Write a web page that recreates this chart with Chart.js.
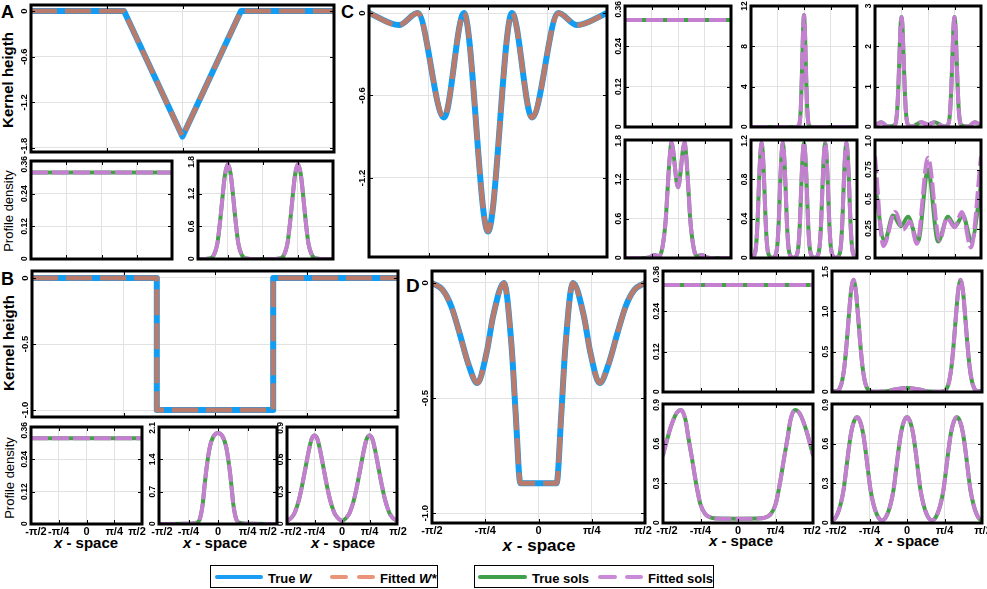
<!DOCTYPE html>
<html>
<head>
<meta charset="utf-8">
<title>Kernel and profile fits</title>
<script src="https://cdn.jsdelivr.net/npm/chart.js@4.4.1/dist/chart.umd.min.js"></script>
<style>
html,body{margin:0;padding:0;background:#fff;}
#fig{position:relative;width:987px;height:589px;overflow:hidden;background:#fff;font-family:"Liberation Sans",Arial,Helvetica,sans-serif;color:#000;}
#fig canvas{position:absolute;}
.txt{position:absolute;white-space:nowrap;line-height:1;}
.rot{transform:translate(-50%,-50%) rotate(-90deg);}
.ctr{transform:translateX(-50%);}
.b{font-weight:bold;}
.xl{font-weight:bold;font-size:15px;}
.leg{position:absolute;box-sizing:border-box;border:1.5px solid #000;background:#fff;}
.sw{position:absolute;height:4px;border-radius:2px;}
.lt{position:absolute;font-weight:bold;font-size:13px;line-height:15px;white-space:nowrap;}
</style>
</head>
<body>
<div id="fig">
  <div class="txt b" style="left:1px;top:3px;font-size:18px;">A</div>
  <div class="txt b" style="left:1px;top:270px;font-size:18px;">B</div>
  <div class="txt b" style="left:341px;top:3px;font-size:18px;">C</div>
  <div class="txt b" style="left:406px;top:276px;font-size:19px;">D</div>

  <div class="txt rot b" style="left:7px;top:80px;font-size:15px;">Kernel heigth</div>
  <div class="txt rot b" style="left:8px;top:343px;font-size:15px;">Kernel heigth</div>
  <div class="txt rot" style="left:8px;top:211px;font-size:13px;">Profile density</div>
  <div class="txt rot" style="left:9px;top:478px;font-size:13px;">Profile density</div>

  <div class="txt ctr xl" style="left:86px;top:535px;"><i>x</i> - space</div>
  <div class="txt ctr xl" style="left:215px;top:535px;"><i>x</i> - space</div>
  <div class="txt ctr xl" style="left:343px;top:535px;"><i>x</i> - space</div>
  <div class="txt ctr xl" style="left:539px;top:537px;font-size:17px;"><i>x</i> - space</div>
  <div class="txt ctr xl" style="left:741px;top:533px;"><i>x</i> - space</div>
  <div class="txt ctr xl" style="left:907px;top:533px;"><i>x</i> - space</div>

  <div class="leg" style="left:210px;top:565px;width:228px;height:23px;"></div>
  <div class="sw" style="left:215px;top:575px;width:48px;background:#1a9df2;"></div>
  <div class="lt" style="left:268px;top:571px;">True <i>W</i></div>
  <div class="sw" style="left:330px;top:575px;width:18px;background:#ea9479;"></div>
  <div class="sw" style="left:357px;top:575px;width:18px;background:#ea9479;"></div>
  <div class="lt" style="left:380px;top:571px;">Fitted <i>W*</i></div>

  <div class="leg" style="left:474px;top:565px;width:240px;height:23px;"></div>
  <div class="sw" style="left:478px;top:575px;width:49px;background:#3f9f4a;"></div>
  <div class="lt" style="left:532px;top:571px;">True sols</div>
  <div class="sw" style="left:598px;top:575px;width:19px;background:#c98ad8;"></div>
  <div class="sw" style="left:625px;top:575px;width:18px;background:#c98ad8;"></div>
  <div class="lt" style="left:648px;top:571px;">Fitted sols</div>
</div>
<script>
// ---------------- tick values and labels (x in units of pi) ----------------
const PI_TICKS = [-0.5, -0.25, 0, 0.25, 0.5];
const PI_TICK_LABELS = ["-π/2", "-π/4", "0", "π/4", "π/2"];

// ---------------- Panel A ----------------
const A_W_x = [-0.5, -0.193, 0, 0.193, 0.5];
const A_W_true = [0, 0, -1.65, 0, 0];
const A_W_fit = [0, 0, -1.65, 0, 0];
const A_W_yticks = [0, -0.6, -1.2, -1.8];
const A_W_ylabels = ["0", "-0.6", "-1.2", "-1.8"];

const FLAT_x = [-0.5, 0.5];
const FLAT_true = [0.318, 0.318];
const FLAT_fit = [0.318, 0.318];
const FLAT_yticks = [0, 0.12, 0.24, 0.36];
const FLAT_ylabels = ["0", "0.12", "0.24", "0.36"];

const A_S2_x = [-0.5,-0.45,-0.38,-0.35,-0.325,-0.305,-0.285,-0.27,-0.25,-0.23,-0.215,-0.195,-0.175,-0.15,-0.12,-0.05,0,0.05,0.12,0.15,0.175,0.195,0.215,0.23,0.25,0.27,0.285,0.305,0.325,0.35,0.38,0.45,0.5];
const A_S2_true = [0,0,0.01,0.07,0.28,0.7,1.22,1.56,1.74,1.56,1.22,0.7,0.28,0.07,0.01,0,0,0,0.01,0.07,0.28,0.7,1.22,1.56,1.74,1.56,1.22,0.7,0.28,0.07,0.01,0,0];
const A_S2_fit = A_S2_true;
const A_S2_yticks = [0, 0.6, 1.2, 1.8];
const A_S2_ylabels = ["0", "0.6", "1.2", "1.8"];

// ---------------- Panel B ----------------
const B_W_x = [-0.5, -0.159, -0.159, 0.159, 0.159, 0.5];
const B_W_true = [0, 0, -1, -1, 0, 0];
const B_W_fit = [0, 0, -1, -1, 0, 0];
const B_W_yticks = [0, -0.5, -1.0];
const B_W_ylabels = ["0", "-0.5", "-1.0"];

const B_S2_x = [-0.5,-0.3,-0.23,-0.18,-0.155,-0.13,-0.115,-0.1,-0.07,-0.04,0,0.04,0.07,0.1,0.115,0.13,0.155,0.18,0.23,0.3,0.5];
const B_S2_true = [0,0.003,0.008,0.03,0.1,0.42,0.8,1.15,1.66,1.89,1.97,1.89,1.66,1.15,0.8,0.42,0.1,0.03,0.008,0.003,0];
const B_S2_fit = B_S2_true;
const B_S2_yticks = [0, 0.7, 1.4, 2.1];
const B_S2_ylabels = ["0", "0.7", "1.4", "2.1"];

const B_S3_x = [-0.5,-0.46,-0.43,-0.39,-0.36,-0.33,-0.3,-0.275,-0.25,-0.225,-0.2,-0.17,-0.14,-0.11,-0.07,-0.04,0,0.04,0.07,0.11,0.14,0.17,0.2,0.225,0.25,0.275,0.3,0.33,0.36,0.39,0.43,0.46,0.5];
const B_S3_true = [0.03,0.058,0.105,0.23,0.37,0.53,0.69,0.79,0.82,0.79,0.69,0.53,0.37,0.23,0.105,0.058,0.03,0.058,0.105,0.23,0.37,0.53,0.69,0.79,0.82,0.79,0.69,0.53,0.37,0.23,0.105,0.058,0.03];
const B_S3_fit = B_S3_true;
const B_S3_yticks = [0, 0.3, 0.6, 0.9];
const B_S3_ylabels = ["0", "0.3", "0.6", "0.9"];

// ---------------- Panel C ----------------
const C_W_x = [-0.5,-0.374,-0.296,-0.185,-0.101,0,0.101,0.185,0.296,0.374,0.5];
const C_W_true = [0,-0.088,0,-0.76,0,-1.59,0,-0.76,0,-0.088,0];
const C_W_fit = [0,-0.088,0,-0.76,0,-1.59,0,-0.76,0,-0.088,0];
const C_W_yticks = [0, -0.6, -1.2];
const C_W_ylabels = ["0", "-0.6", "-1.2"];

const C_S2_x = [-0.5,-0.08,-0.05,-0.04,-0.03,-0.02,-0.01,0,0.01,0.02,0.03,0.04,0.05,0.08,0.5];
const C_S2_true = [0,0,0.09,0.5,1.9,5.1,9.1,11.1,9.1,5.1,1.9,0.5,0.09,0,0];
const C_S2_fit = C_S2_true;
const C_S2_yticks = [0, 4, 8, 12];
const C_S2_ylabels = ["0", "4", "8", "12"];

const C_S3_x = [-0.5,-0.44,-0.38,-0.315,-0.3,-0.29,-0.28,-0.27,-0.26,-0.25,-0.24,-0.23,-0.22,-0.21,-0.2,-0.185,-0.15,-0.066,0,0.066,0.15,0.185,0.2,0.21,0.22,0.23,0.24,0.25,0.26,0.27,0.28,0.29,0.3,0.315,0.38,0.44,0.5];
const C_S3_true = [0.04,0.12,0.01,0.04,0.16,0.44,0.98,1.7,2.45,2.73,2.45,1.7,0.98,0.44,0.16,0.04,0.01,0.12,0.06,0.12,0.01,0.04,0.16,0.44,0.98,1.7,2.45,2.73,2.45,1.7,0.98,0.44,0.16,0.04,0.01,0.12,0.04];
const C_S3_fit = C_S3_true;
const C_S3_yticks = [0, 1, 2, 3];
const C_S3_ylabels = ["0", "1", "2", "3"];

const C_S4_x = [-0.5,-0.35,-0.27,-0.22,-0.18,-0.155,-0.13,-0.115,-0.1,-0.08,-0.062,0,0.062,0.08,0.1,0.115,0.13,0.155,0.18,0.22,0.27,0.35,0.5];
const C_S4_true = [0,0,0.01,0.045,0.03,0.1,0.35,0.6,1.0,1.5,1.76,1.08,1.76,1.5,1.0,0.6,0.35,0.1,0.03,0.045,0.01,0,0];
const C_S4_fit = C_S4_true;
const C_S4_yticks = [0, 0.6, 1.2, 1.8];
const C_S4_ylabels = ["0", "0.6", "1.2", "1.8"];

const C_S5_x = [
  -0.5,-0.465,-0.45,-0.437,-0.425,-0.412,-0.4,-0.388,-0.375,-0.363,-0.35,-0.335,
  -0.3,-0.265,-0.25,-0.237,-0.225,-0.212,-0.2,-0.188,-0.175,-0.163,-0.15,-0.135,
  -0.1,-0.065,-0.05,-0.037,-0.025,-0.012,0,0.012,0.025,0.037,0.05,0.065,
  0.1,0.135,0.15,0.163,0.175,0.188,0.2,0.212,0.225,0.237,0.25,0.265,
  0.3,0.335,0.35,0.363,0.375,0.388,0.4,0.412,0.425,0.437,0.45,0.465,
  0.5];
const C_S5_true = [
  0.003,0.04,0.15,0.4,0.75,1.05,1.17,1.05,0.75,0.4,0.15,0.04,
  0.003,0.04,0.15,0.4,0.75,1.05,1.17,1.05,0.75,0.4,0.15,0.04,
  0.003,0.04,0.15,0.4,0.75,1.05,1.17,1.05,0.75,0.4,0.15,0.04,
  0.003,0.04,0.15,0.4,0.75,1.05,1.17,1.05,0.75,0.4,0.15,0.04,
  0.003,0.04,0.15,0.4,0.75,1.05,1.17,1.05,0.75,0.4,0.15,0.04,
  0.003];
const C_S5_fit = C_S5_true;
const C_S5_yticks = [0, 0.4, 0.8, 1.2];
const C_S5_ylabels = ["0", "0.4", "0.8", "1.2"];

const C_S6_true_x = [-0.5,-0.41,-0.33,-0.255,-0.188,-0.095,0,0.095,0.188,0.255,0.33,0.41,0.5];
const C_S6_true = [0.62,0.14,0.36,0.27,0.35,0.14,0.75,0.14,0.35,0.27,0.36,0.14,0.62];
const C_S6_fit_x = [-0.5,-0.42,-0.31,-0.235,-0.17,-0.105,0,0.11,0.18,0.25,0.32,0.405,0.5];
const C_S6_fit = [0.86,0.10,0.39,0.24,0.31,0.12,0.85,0.15,0.34,0.26,0.39,0.09,0.86];
const C_S6_yticks = [0, 0.25, 0.5, 0.75, 1.0];
const C_S6_ylabels = ["0", "0.25", "0.5", "0.75", "1.0"];

// ---------------- Panel D ----------------
const D_W_x = [-0.5,-0.45,-0.41,-0.37,-0.33,-0.287,-0.243,-0.212,-0.162,-0.126,-0.107,-0.085,0.085,0.107,0.126,0.162,0.212,0.243,0.287,0.33,0.37,0.41,0.45,0.5];
const D_W_true = [0,-0.03,-0.1,-0.22,-0.35,-0.435,-0.3,-0.14,0,-0.28,-0.57,-0.87,-0.87,-0.57,-0.28,0,-0.14,-0.3,-0.435,-0.35,-0.22,-0.1,-0.03,0];
const D_W_fit = D_W_true;
const D_W_yticks = [0, -0.5, -1.0];
const D_W_ylabels = ["0", "-0.5", "-1.0"];

const D_S2_x = [-0.5,-0.467,-0.447,-0.432,-0.417,-0.402,-0.387,-0.372,-0.357,-0.342,-0.327,-0.312,-0.297,-0.282,-0.267,-0.247,-0.2,-0.15,-0.08,0,0.08,0.15,0.2,0.247,0.267,0.282,0.297,0.312,0.327,0.342,0.357,0.372,0.387,0.402,0.417,0.432,0.447,0.467,0.5];
const D_S2_true = [0.01,0.01,0.05,0.14,0.32,0.61,0.96,1.27,1.39,1.27,0.96,0.61,0.32,0.14,0.05,0.01,0.003,0.005,0.03,0.05,0.03,0.005,0.003,0.01,0.05,0.14,0.32,0.61,0.96,1.27,1.39,1.27,0.96,0.61,0.32,0.14,0.05,0.01,0.01];
const D_S2_fit = D_S2_true;
const D_S2_yticks = [0, 0.5, 1.0, 1.5];
const D_S2_ylabels = ["0", "0.5", "1.0", "1.5"];

const D_S3_x = [-0.5,-0.45,-0.41,-0.38,-0.35,-0.33,-0.307,-0.29,-0.273,-0.25,-0.22,-0.19,-0.16,0,0.16,0.19,0.22,0.25,0.273,0.29,0.307,0.33,0.35,0.38,0.41,0.45,0.5];
const D_S3_true = [0.515,0.72,0.83,0.855,0.78,0.64,0.49,0.37,0.26,0.14,0.07,0.045,0.035,0.032,0.035,0.045,0.07,0.14,0.26,0.37,0.49,0.64,0.78,0.855,0.83,0.72,0.515];
const D_S3_fit = D_S3_true;
const D_S3_yticks = [0, 0.3, 0.6, 0.9];
const D_S3_ylabels = ["0", "0.3", "0.6", "0.9"];

const D_S4_x = [-0.5,-0.483,-0.463,-0.443,-0.423,-0.408,-0.393,-0.373,-0.353,-0.333,-0.313,-0.293,-0.273,-0.258,-0.243,-0.223,-0.203,-0.183,-0.167,
  -0.15,-0.13,-0.11,-0.09,-0.075,-0.06,-0.04,-0.02,0,0.02,0.04,0.06,0.075,0.09,0.11,0.13,0.15,0.167,
  0.183,0.203,0.223,0.243,0.258,0.273,0.293,0.313,0.333,0.353,0.373,0.393,0.408,0.423,0.443,0.463,0.483,0.5];
const D_S4_true = [0.02,0.03,0.07,0.14,0.25,0.38,0.52,0.68,0.77,0.80,0.77,0.68,0.52,0.38,0.25,0.14,0.07,0.03,0.02,
  0.03,0.07,0.14,0.25,0.38,0.52,0.68,0.77,0.80,0.77,0.68,0.52,0.38,0.25,0.14,0.07,0.03,0.02,
  0.03,0.07,0.14,0.25,0.38,0.52,0.68,0.77,0.80,0.77,0.68,0.52,0.38,0.25,0.14,0.07,0.03,0.02];
const D_S4_fit = D_S4_true;
const D_S4_yticks = [0, 0.3, 0.6, 0.9];
const D_S4_ylabels = ["0", "0.3", "0.6", "0.9"];

// ---------------- drawing ----------------
const FONT = '"Liberation Sans", Arial, Helvetica, sans-serif';
const COL = { blue: '#129df3', brown: '#b97b6c', green: '#43a047', pink: '#c47fd0', grid: '#e2e2e2' };
const PAD = { left: 26, top: 8, right: 14, bottom: 22 };

function pts(xs, ys) { return xs.map((x, i) => ({ x: x, y: ys[i] })); }

function framePlugin(cfg) {
  return {
    id: 'frame',
    afterDraw(chart) {
      const ctx = chart.ctx, a = chart.chartArea, sx = chart.scales.x, sy = chart.scales.y;
      ctx.save();
      ctx.strokeStyle = '#000';
      ctx.lineWidth = 1;
      ctx.beginPath();
      cfg.yt.forEach(v => {
        const p = Math.round(sy.getPixelForValue(v)) + 0.5;
        if (p > a.top + 3 && p < a.bottom - 3) {
          ctx.moveTo(a.left, p); ctx.lineTo(a.left + 4, p);
          ctx.moveTo(a.right - 4, p); ctx.lineTo(a.right, p);
        }
      });
      PI_TICKS.forEach(v => {
        const p = Math.round(sx.getPixelForValue(v)) + 0.5;
        if (p > a.left + 3 && p < a.right - 3) {
          ctx.moveTo(p, a.top); ctx.lineTo(p, a.top + 4);
          ctx.moveTo(p, a.bottom - 4); ctx.lineTo(p, a.bottom);
        }
      });
      ctx.stroke();
      ctx.lineWidth = 3;
      ctx.strokeRect(a.left, a.top, a.right - a.left, a.bottom - a.top);
      ctx.fillStyle = '#000';
      ctx.textAlign = 'center';
      ctx.textBaseline = 'middle';
      ctx.font = 'bold ' + cfg.yFont + 'px ' + FONT;
      cfg.yt.forEach((v, i) => {
        const lab = cfg.yl[i];
        const half = ctx.measureText(lab).width / 2;
        let c = sy.getPixelForValue(v);
        c = Math.max(c, a.top + half - 5);
        c = Math.min(c, a.bottom - half + 2);
        ctx.save();
        ctx.translate(a.left - 6.5, c);
        ctx.rotate(-Math.PI / 2);
        ctx.fillText(lab, 0, 0);
        ctx.restore();
      });
      if (cfg.xl) {
        ctx.font = 'bold 11px ' + FONT;
        PI_TICKS.forEach((v, i) => {
          let p = sx.getPixelForValue(v);
          if (i === 0) p += cfg.xl[0];
          if (i === PI_TICKS.length - 1) p += cfg.xl[1];
          ctx.fillText(PI_TICK_LABELS[i], p, a.bottom + 8);
        });
      }
      ctx.restore();
    }
  };
}

function addPanel(cfg) {
  const [L, T, R, B] = cfg.box;
  const w = R - L + PAD.left + PAD.right, h = B - T + PAD.top + PAD.bottom;
  const cv = document.createElement('canvas');
  cv.width = w; cv.height = h;
  cv.style.left = (L - PAD.left) + 'px';
  cv.style.top = (T - PAD.top) + 'px';
  cv.style.width = w + 'px'; cv.style.height = h + 'px';
  document.getElementById('fig').appendChild(cv);

  const kernel = cfg.kind === 'W';
  const interp = cfg.smooth ? 'monotone' : 'default';
  const fitX = cfg.fx || cfg.x;
  const datasets = [
    {
      data: pts(fitX, cfg.f),
      borderColor: kernel ? COL.brown : COL.pink,
      borderWidth: kernel ? 5 : 4,
      borderDash: kernel ? [26, 8] : [17, 4],
      borderCapStyle: 'butt', borderJoinStyle: 'round',
      cubicInterpolationMode: interp, tension: 0, pointRadius: 0, fill: false
    },
    {
      data: pts(cfg.x, cfg.t),
      borderColor: kernel ? COL.blue : COL.green,
      borderWidth: kernel ? 6 : 4,
      borderCapStyle: 'round', borderJoinStyle: 'round',
      cubicInterpolationMode: interp, tension: 0, pointRadius: 0, fill: false
    }
  ];
  const xMin = cfg.xMin !== undefined ? cfg.xMin : -0.5;
  new Chart(cv, {
    type: 'line',
    data: { datasets: datasets },
    options: {
      responsive: false, animation: false, devicePixelRatio: 1, events: [],
      layout: { padding: PAD, autoPadding: false },
      plugins: { legend: { display: false }, tooltip: { enabled: false } },
      scales: {
        x: {
          type: 'linear', min: xMin, max: 0.5,
          afterBuildTicks: s => { s.ticks = PI_TICKS.filter(v => v >= xMin - 1e-9).map(v => ({ value: v })); },
          afterFit: s => { s.height = 0; },
          ticks: { display: false },
          grid: { color: COL.grid, lineWidth: 1, drawTicks: false },
          border: { display: false }
        },
        y: {
          type: 'linear', min: cfg.yr[0], max: cfg.yr[1],
          afterBuildTicks: s => { s.ticks = cfg.yt.map(v => ({ value: v })); },
          afterFit: s => { s.width = 0; },
          ticks: { display: false },
          grid: { color: COL.grid, lineWidth: 1, drawTicks: false },
          border: { display: false }
        }
      }
    },
    plugins: [framePlugin(cfg)]
  });
}

// Panel A
addPanel({ box: [31, 5, 334, 152], kind: 'W', yr: [-1.853, 0.079], yt: A_W_yticks, yl: A_W_ylabels, x: A_W_x, t: A_W_true, f: A_W_fit, smooth: false, yFont: 9.5 });
addPanel({ box: [31, 161, 172, 259], kind: 'S', yr: [0, 0.36], yt: FLAT_yticks, yl: FLAT_ylabels, x: FLAT_x, t: FLAT_true, f: FLAT_fit, smooth: false, yFont: 8.5 });
addPanel({ box: [198, 161, 333, 259], kind: 'S', xMin: -0.463, yr: [0, 1.8], yt: A_S2_yticks, yl: A_S2_ylabels, x: A_S2_x, t: A_S2_true, f: A_S2_fit, smooth: true, yFont: 8.5 });
// Panel B
addPanel({ box: [32, 271, 398, 417], kind: 'W', yr: [-1.053, 0.053], yt: B_W_yticks, yl: B_W_ylabels, x: B_W_x, t: B_W_true, f: B_W_fit, smooth: false, yFont: 9.5 });
addPanel({ box: [31, 427, 142, 524], kind: 'S', yr: [0, 0.36], yt: FLAT_yticks, yl: FLAT_ylabels, x: FLAT_x, t: FLAT_true, f: FLAT_fit, smooth: false, yFont: 8.5, xl: [5, -5] });
addPanel({ box: [159, 427, 277, 524], kind: 'S', yr: [0, 2.1], yt: B_S2_yticks, yl: B_S2_ylabels, x: B_S2_x, t: B_S2_true, f: B_S2_fit, smooth: true, yFont: 8.5, xl: [3, -9] });
addPanel({ box: [287, 427, 397, 524], kind: 'S', yr: [0, 0.9], yt: B_S3_yticks, yl: B_S3_ylabels, x: B_S3_x, t: B_S3_true, f: B_S3_fit, smooth: true, yFont: 8.5, xl: [4, 1] });
// Panel C
addPanel({ box: [369, 6, 607, 257], kind: 'W', yr: [-1.775, 0.051], yt: C_W_yticks, yl: C_W_ylabels, x: C_W_x, t: C_W_true, f: C_W_fit, smooth: true, yFont: 9.5 });
addPanel({ box: [625, 6, 731, 127], kind: 'S', yr: [0, 0.36], yt: FLAT_yticks, yl: FLAT_ylabels, x: FLAT_x, t: FLAT_true, f: FLAT_fit, smooth: false, yFont: 8.5 });
addPanel({ box: [751, 6, 857, 127], kind: 'S', yr: [0, 12], yt: C_S2_yticks, yl: C_S2_ylabels, x: C_S2_x, t: C_S2_true, f: C_S2_fit, smooth: true, yFont: 8.5 });
addPanel({ box: [875, 6, 981, 127], kind: 'S', yr: [0, 3], yt: C_S3_yticks, yl: C_S3_ylabels, x: C_S3_x, t: C_S3_true, f: C_S3_fit, smooth: true, yFont: 8.5 });
addPanel({ box: [625, 140, 731, 258], kind: 'S', yr: [0, 1.8], yt: C_S4_yticks, yl: C_S4_ylabels, x: C_S4_x, t: C_S4_true, f: C_S4_fit, smooth: true, yFont: 8.5 });
addPanel({ box: [751, 140, 857, 258], kind: 'S', yr: [0, 1.2], yt: C_S5_yticks, yl: C_S5_ylabels, x: C_S5_x, t: C_S5_true, f: C_S5_fit, smooth: true, yFont: 8.5 });
addPanel({ box: [875, 140, 981, 258], kind: 'S', yr: [0, 1.0], yt: C_S6_yticks, yl: C_S6_ylabels, x: C_S6_true_x, t: C_S6_true, fx: C_S6_fit_x, f: C_S6_fit, smooth: true, yFont: 8.5 });
// Panel D
addPanel({ box: [432, 271, 645, 523], kind: 'W', yr: [-1.043, 0.052], yt: D_W_yticks, yl: D_W_ylabels, x: D_W_x, t: D_W_true, f: D_W_fit, smooth: true, yFont: 9.5, xl: [0, -2] });
addPanel({ box: [663, 271, 813, 392], kind: 'S', yr: [0, 0.36], yt: FLAT_yticks, yl: FLAT_ylabels, x: FLAT_x, t: FLAT_true, f: FLAT_fit, smooth: false, yFont: 8.5 });
addPanel({ box: [832, 271, 982, 392], kind: 'S', yr: [0, 1.5], yt: D_S2_yticks, yl: D_S2_ylabels, x: D_S2_x, t: D_S2_true, f: D_S2_fit, smooth: true, yFont: 8.5 });
addPanel({ box: [663, 404, 813, 523], kind: 'S', yr: [0, 0.9], yt: D_S3_yticks, yl: D_S3_ylabels, x: D_S3_x, t: D_S3_true, f: D_S3_fit, smooth: true, yFont: 8.5, xl: [4, -1] });
addPanel({ box: [832, 404, 982, 523], kind: 'S', yr: [0, 0.9], yt: D_S4_yticks, yl: D_S4_ylabels, x: D_S4_x, t: D_S4_true, f: D_S4_fit, smooth: true, yFont: 8.5, xl: [4, 1] });
</script>
</body>
</html>
